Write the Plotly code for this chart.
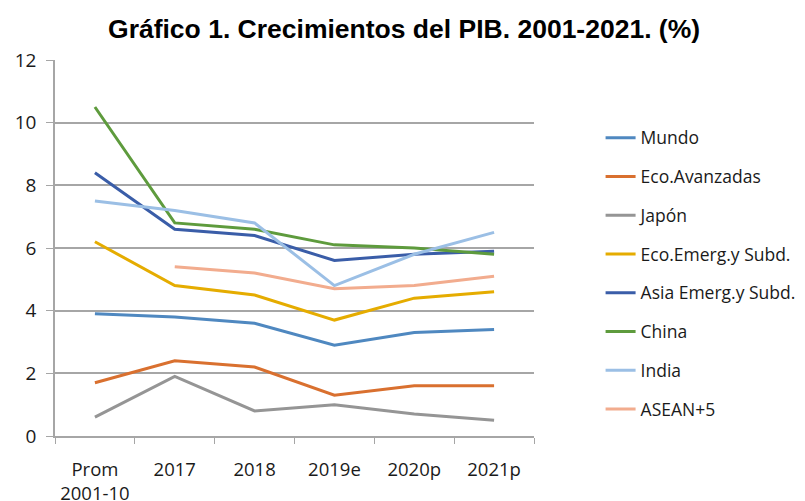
import plotly.graph_objects as go

categories = ["Prom<br>2001-10", "2017", "2018", "2019e", "2020p", "2021p"]
series_names = ["Mundo", "Eco.Avanzadas", "Japón", "Eco.Emerg.y Subd.",
                "Asia Emerg.y Subd.", "China", "India", "ASEAN+5"]
mundo = [3.9, 3.8, 3.6, 2.9, 3.3, 3.4]
eco_avanzadas = [1.7, 2.4, 2.2, 1.3, 1.6, 1.6]
japon = [0.6, 1.9, 0.8, 1.0, 0.7, 0.5]
eco_emerg = [6.2, 4.8, 4.5, 3.7, 4.4, 4.6]
asia_emerg = [8.4, 6.6, 6.4, 5.6, 5.8, 5.9]
china = [10.5, 6.8, 6.6, 6.1, 6.0, 5.8]
india = [7.5, 7.2, 6.8, 4.8, 5.8, 6.5]
asean5 = [None, 5.4, 5.2, 4.7, 4.8, 5.1]
colors = ["#4F88C0", "#D9702F", "#959595", "#E5AC00",
          "#3A5DA8", "#5E9B3D", "#9BBFE5", "#F2AC8E"]

all_values = [mundo, eco_avanzadas, japon, eco_emerg, asia_emerg, china, india, asean5]

fig = go.Figure()
for name, vals, col in zip(series_names, all_values, colors):
    fig.add_trace(go.Scatter(
        x=categories, y=vals, name=name, mode="lines",
        line=dict(color=col, width=3), legendgroup=name,
        connectgaps=False,
    ))

fig.update_layout(
    width=805, height=501,
    paper_bgcolor="white", plot_bgcolor="white",
    margin=dict(l=47, r=268, t=52, b=73),
    title=dict(text="<b>Gráfico 1. Crecimientos del PIB. 2001-2021. (%)</b>",
               x=0.492, xanchor="center", y=0.958, yanchor="middle",
               font=dict(family="Liberation Sans, Arial", size=26.5, color="black")),
    font=dict(family="Open Sans, sans-serif", size=17, color="#1a1a1a"),
    showlegend=True,
    legend=dict(x=1.139, xanchor="left", y=0.841, yanchor="top",
                font=dict(family="Open Sans, sans-serif", size=17.5, color="#1a1a1a"),
                tracegroupgap=13, bgcolor="rgba(0,0,0,0)"),
)
fig.update_xaxes(
    type="category", range=[-0.5, 5.5], showgrid=False, showline=True,
    linecolor="#A6A6A6", linewidth=1.5, automargin=False,
    ticks="outside", tickson="boundaries", ticklen=6, tickcolor="#A6A6A6",
    ticklabelstandoff=16, tickfont=dict(size=18.5),
)
fig.update_yaxes(
    range=[0, 12], dtick=2, showgrid=True, gridcolor="#A6A6A6", gridwidth=1.5,
    showline=True, linecolor="#A6A6A6", linewidth=1.5, automargin=False,
    ticks="outside", ticklen=7, tickcolor="#A6A6A6", zeroline=False,
    tickfont=dict(size=19), ticklabelstandoff=6,
)

fig.write_html("out.html")
